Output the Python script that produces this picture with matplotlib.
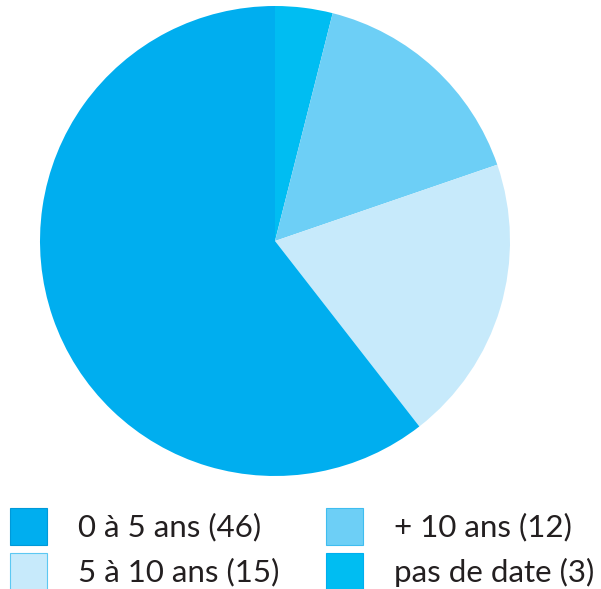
import matplotlib
matplotlib.use("Agg")
import matplotlib.pyplot as plt
from matplotlib.patches import Rectangle

labels = ["pas de date (3)", "+ 10 ans (12)", "5 à 10 ans (15)", "0 à 5 ans (46)"]
values = [3, 12, 15, 46]
colors = ["#00bdf2", "#6dcff6", "#c7eafb", "#00aeef"]
edges = ["#00aeef", "#3fbdf0", "#5cc8f2", "#0099d8"]

W, H = 601, 589
fig = plt.figure(figsize=(W / 100, H / 100), dpi=100)

ax = fig.add_axes([40 / W, (H - 476) / H, 470 / W, 470 / H])
ax.pie(values, colors=colors, startangle=90, counterclock=False, radius=1,
       wedgeprops=dict(linewidth=0))
ax.set_xlim(-1, 1)
ax.set_ylim(-1, 1)
ax.set_aspect("equal")
ax.axis("off")

# legend, two columns, drawn by hand
legend_order = [3, 1, 2, 0]  # 0-5, +10, 5-10, pas de date
slots = [(10, 508), (326, 508), (10, 553), (326, 553)]
for idx, (x, y) in zip(legend_order, slots):
    fig.patches.append(Rectangle((x / W, (H - y - 37) / H), 37 / W, 37 / H,
                                 transform=fig.transFigure, facecolor=colors[idx],
                                 edgecolor=edges[idx], linewidth=0.8))
    fig.text((x + 68) / W, (H - y - 19) / H, labels[idx], fontsize=22.5,
             family="Lato", color="#231f20", va="center", ha="left")

fig.savefig("out.png", dpi=100)
